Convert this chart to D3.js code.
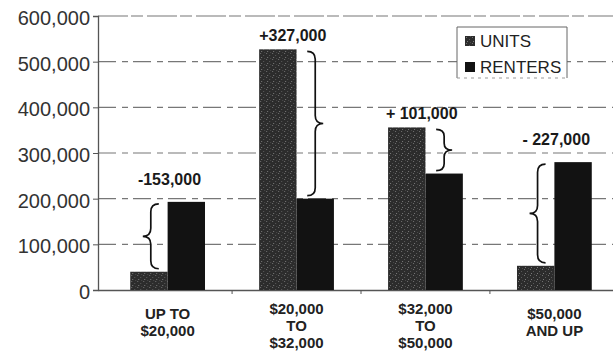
<!DOCTYPE html>
<html>
<head>
<meta charset="utf-8">
<script src="https://cdn.jsdelivr.net/npm/d3@7"></script>
<style>
  body { margin: 0; background: #fff; }
  svg { display: block; font-family: "Liberation Sans", Arial, sans-serif; }
</style>
</head>
<body>
<div id="chart"></div>
<script>
// data
const categories = ["UP TO|$20,000", "$20,000|TO|$32,000", "$32,000|TO|$50,000", "$50,000|AND UP"];
const units   = [40000, 527000, 356000, 53000];
const renters = [193000, 200000, 255000, 280000];
const gapLabels = ["-153,000", "+327,000", "+ 101,000", "- 227,000"];
const yTicks = [0, 100000, 200000, 300000, 400000, 500000, 600000];
const seriesNames = ["UNITS", "RENTERS"];

const W = 613, H = 352;
const margin = {top: 16, left: 98, bottom: 62};
const plotW = 526;
const plotH = H - margin.top - margin.bottom;

const svg = d3.select("#chart").append("svg")
  .attr("width", W).attr("height", H);

const defs = svg.append("defs");
// speckled fill for the units bars
const pat = defs.append("pattern").attr("id", "speckle")
  .attr("width", 6).attr("height", 6).attr("patternUnits", "userSpaceOnUse");
pat.append("rect").attr("width", 6).attr("height", 6).attr("fill", "#2c2c2c");
pat.append("rect").attr("x", 1).attr("y", 1).attr("width", 1).attr("height", 1).attr("fill", "#707070");
pat.append("rect").attr("x", 4).attr("y", 3).attr("width", 1).attr("height", 1).attr("fill", "#5a5a5a");
pat.append("rect").attr("x", 2).attr("y", 5).attr("width", 1).attr("height", 1).attr("fill", "#7a7a7a");
pat.append("rect").attr("x", 5).attr("y", 0).attr("width", 1).attr("height", 1).attr("fill", "#4a4a4a");

const g = svg.append("g").attr("transform", `translate(${margin.left},${margin.top})`);

const x = d3.scaleBand().domain(categories).range([0, plotW]).paddingInner(0.42).paddingOuter(0.25);
const y = d3.scaleLinear().domain([0, 600000]).range([plotH, 0]);

// gridlines
g.append("g").selectAll("line").data(yTicks.slice(1)).join("line")
  .attr("x1", 0).attr("x2", plotW)
  .attr("y1", d => y(d)).attr("y2", d => y(d))
  .attr("stroke", "#777").attr("stroke-width", 1.2)
  .attr("stroke-dasharray", d => d === 600000 ? "30,3,12,4" : "18,6,6,5");

// y axis
const yAxis = g.append("g")
  .call(d3.axisLeft(y).tickValues(yTicks).tickSize(5).tickPadding(3).tickFormat(d3.format(",")));
yAxis.select(".domain").attr("stroke", "#555").attr("stroke-width", 1.3);
yAxis.selectAll(".tick line").attr("stroke", "#555");
yAxis.selectAll("text").attr("font-size", 20).attr("fill", "#333").attr("dy", "0.42em");

// x axis
const xAxis = g.append("g").attr("transform", `translate(0,${plotH})`)
  .call(d3.axisBottom(x).tickSize(0).tickFormat(""));
xAxis.select(".domain").attr("stroke", "#555").attr("stroke-width", 1.3);
// tick marks between categories
g.append("g").selectAll("line").data(categories.slice(1)).join("line")
  .attr("x1", d => x(d) - x.step() * x.paddingInner() / 2)
  .attr("x2", d => x(d) - x.step() * x.paddingInner() / 2)
  .attr("y1", plotH).attr("y2", plotH + 4)
  .attr("stroke", "#555");

// x labels (multi-line)
const xl = g.append("g").selectAll("text").data(categories).join("text")
  .attr("text-anchor", "middle")
  .attr("font-size", 15).attr("font-weight", "bold").attr("fill", "#222")
  .attr("transform", d => `translate(${x(d) + x.bandwidth() / 2},${plotH + 29})`);
xl.each(function(d) {
  const lines = d.split("|");
  const startY = lines.length === 3 ? -5 : 0;
  d3.select(this).selectAll("tspan").data(lines).join("tspan")
    .attr("x", 0).attr("y", (l, i) => startY + i * 17).text(l => l);
});

// bars
const barW = x.bandwidth() / 2;
const groups = g.append("g").selectAll("g").data(categories).join("g")
  .attr("transform", d => `translate(${x(d)},0)`);
groups.append("rect")
  .attr("x", 0).attr("width", barW)
  .attr("y", (d, i) => y(units[i])).attr("height", (d, i) => plotH - y(units[i]))
  .attr("fill", "url(#speckle)");
groups.append("rect")
  .attr("x", barW).attr("width", barW)
  .attr("y", (d, i) => y(renters[i])).attr("height", (d, i) => plotH - y(renters[i]))
  .attr("fill", "#121212");

// curly brace path: vertical from ya to yb at xc, tip pointing dir (-1 left, 1 right)
function brace(xc, ya, yb, dir, w) {
  const top = Math.min(ya, yb), bot = Math.max(ya, yb), mid = (top + bot) / 2;
  const e = -dir * w * 0.5, t = dir * w * 0.5;
  const r = Math.min(8, (bot - top) / 6);
  return `M${xc + e},${top} Q${xc},${top} ${xc},${top + r} L${xc},${mid - r}` +
    ` Q${xc},${mid} ${xc + t},${mid} Q${xc},${mid} ${xc},${mid + r}` +
    ` L${xc},${bot - r} Q${xc},${bot} ${xc + e},${bot}`;
}

groups.append("path")
  .attr("d", (d, i) => {
    const unitsTaller = units[i] > renters[i];
    const xc = unitsTaller ? barW * 1.5 : barW * 0.55;
    const dir = unitsTaller ? 1 : -1;
    const lo = Math.min(units[i], renters[i]), hi = Math.max(units[i], renters[i]);
    return brace(xc, y(hi) + 2, y(lo) - 3, dir, 16);
  })
  .attr("fill", "none").attr("stroke", "#111").attr("stroke-width", 1.7);

// gap labels
groups.append("text")
  .attr("x", (d, i) => units[i] > renters[i] ? barW * 0.9 : barW * 1.05)
  .attr("y", (d, i) => y(Math.max(units[i], renters[i])) - (units[i] > renters[i] ? 8 : 17))
  .attr("text-anchor", "middle")
  .attr("font-size", 16).attr("font-weight", "bold").attr("fill", "#1a1a1a")
  .text((d, i) => gapLabels[i]);

// legend
const lg = svg.append("g").attr("transform", "translate(457,27)");
lg.append("path").attr("d", "M0,51 L0,0 L110,0 L110,51")
  .attr("fill", "#fff").attr("stroke", "#666").attr("stroke-width", 1);
lg.append("line").attr("x1", 0).attr("x2", 110).attr("y1", 51).attr("y2", 51)
  .attr("stroke", "#999").attr("stroke-dasharray", "3,4");
const li = lg.selectAll("g").data(seriesNames).join("g")
  .attr("transform", (d, i) => `translate(8,${9 + i * 26})`);
li.append("rect").attr("width", 10).attr("height", 10)
  .attr("fill", (d, i) => i === 0 ? "url(#speckle)" : "#121212");
li.append("text").attr("x", 15).attr("y", 11)
  .attr("font-size", 17).attr("fill", "#222").text(d => d);
</script>
</body>
</html>
